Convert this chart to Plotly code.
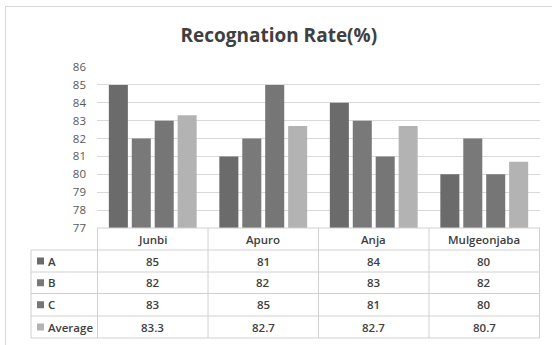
import plotly.graph_objects as go

# Recognition rates per dataset
categories = ["Junbi", "Apuro", "Anja", "Mulgeonjaba"]
series_names = ["A", "B", "C", "Average"]
rate_a = [85, 81, 84, 80]
rate_b = [82, 82, 83, 82]
rate_c = [83, 85, 81, 80]
rate_avg = [83.3, 82.7, 82.7, 80.7]
series_values = [rate_a, rate_b, rate_c, rate_avg]
series_colors = ["#6b6b6b", "#797979", "#767676", "#b3b3b3"]
y_ticks = list(range(77, 87))

W, H = 552, 345
L, R, T, B = 97, 12, 67, 117
PW, PH = W - L - R, H - T - B


def px_x(px):
    return (px - L) / PW


def px_y(py):
    return (H - B - py) / PH


FONT = "Open Sans"
TXT = "#404040"
GRID = "#d9d9d9"
LINE = "#d0d0d0"
CELL_FONT = dict(family=FONT, size=11.5, color=TXT, weight=600)

fig = go.Figure()
for name, vals, col in zip(series_names, series_values, series_colors):
    fig.add_trace(go.Bar(
        x=categories, y=vals, name=name,
        marker=dict(color=col, line=dict(width=0)),
        showlegend=False,
    ))

shapes = []
annotations = []

# data table: row boundaries in pixels
row_edges = [228, 250, 272, 293.5, 316, 338]
# horizontal rules
for i, py in enumerate(row_edges):
    x0 = 0 if i == 0 else px_x(31)
    shapes.append(dict(type="line", xref="paper", yref="paper",
                       x0=x0, x1=1, y0=px_y(py), y1=px_y(py),
                       line=dict(color=LINE, width=1)))
# vertical rules between categories
for k in range(len(categories) + 1):
    shapes.append(dict(type="line", xref="x", yref="paper",
                       x0=k - 0.5, x1=k - 0.5,
                       y0=px_y(row_edges[0]), y1=px_y(row_edges[-1]),
                       line=dict(color=LINE, width=1)))
# left edge of row-label column
shapes.append(dict(type="line", xref="paper", yref="paper",
                   x0=px_x(31), x1=px_x(31),
                   y0=px_y(row_edges[1]), y1=px_y(row_edges[-1]),
                   line=dict(color=LINE, width=1)))

# header with category names
hdr_y = px_y((row_edges[0] + row_edges[1]) / 2)
for c in categories:
    annotations.append(dict(x=c, y=hdr_y, xref="x", yref="paper",
                            xanchor="center", yanchor="middle",
                            text=c, showarrow=False, font=CELL_FONT))

# series rows
for r, (name, vals, col) in enumerate(zip(series_names, series_values, series_colors)):
    cy = (row_edges[r + 1] + row_edges[r + 2]) / 2
    shapes.append(dict(type="rect", xref="paper", yref="paper",
                       x0=px_x(37), x1=px_x(44),
                       y0=px_y(cy + 3.5), y1=px_y(cy - 3.5),
                       fillcolor=col, line=dict(width=0)))
    annotations.append(dict(x=px_x(46), y=px_y(cy), xref="paper", yref="paper",
                            text=name, showarrow=False,
                            xanchor="left", yanchor="middle", font=CELL_FONT))
    for c, v in zip(categories, vals):
        annotations.append(dict(x=c, y=px_y(cy), xref="x", yref="paper",
                                xanchor="center", yanchor="middle",
                                text=f"{v:g}", showarrow=False, font=CELL_FONT))

# chart frame (top and left edges)
shapes.append(dict(type="line", xref="paper", yref="paper",
                   x0=px_x(5), x1=px_x(560), y0=px_y(6.5), y1=px_y(6.5),
                   line=dict(color=GRID, width=1)))
shapes.append(dict(type="line", xref="paper", yref="paper",
                   x0=px_x(5.5), x1=px_x(5.5), y0=px_y(6), y1=px_y(350),
                   line=dict(color=GRID, width=1)))

fig.update_layout(
    width=W, height=H,
    margin=dict(l=L, r=R, t=T, b=B, pad=0),
    paper_bgcolor="white", plot_bgcolor="white",
    barmode="group", bargap=0.17, bargroupgap=0.17,
    title=dict(text="<b>Recognation Rate(%)</b>", x=0.505, xref="container",
               xanchor="center", y=1 - 35 / H, yref="container", yanchor="middle",
               font=dict(family=FONT, size=19, color="#404040")),
    xaxis=dict(showticklabels=False, showgrid=False, showline=False, ticks="",
               zeroline=False),
    yaxis=dict(range=[77, 86], tickvals=y_ticks, showgrid=True, gridcolor=GRID,
               gridwidth=1, zeroline=False, showline=False, ticks="",
               ticklabelstandoff=10,
               tickfont=dict(family=FONT, size=11.5, color="#595959")),
    shapes=shapes,
    annotations=annotations,
)

fig.write_html("out.html")
